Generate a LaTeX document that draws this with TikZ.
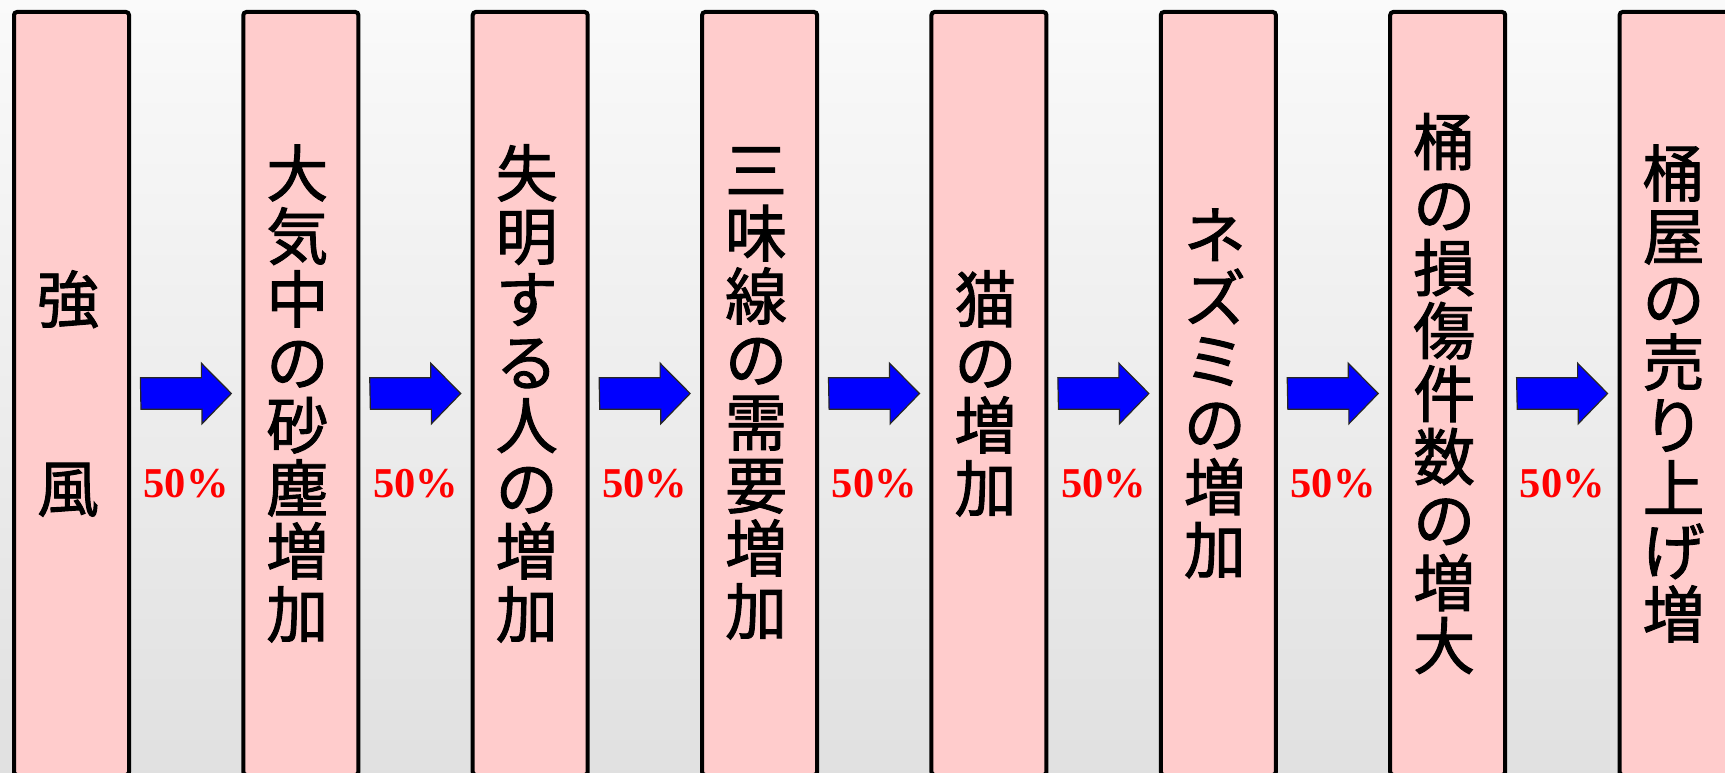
\documentclass[tikz,border=0pt]{standalone}
\usepackage{fontspec}
\usetikzlibrary{calc}
\newfontfamily\cjk{Noto Sans CJK JP}[FakeBold=1.5]
\newfontfamily\pctfont{Liberation Serif}
\definecolor{boxpink}{HTML}{FFCCCC}
\definecolor{arrowblue}{HTML}{0000FF}
\tikzset{
  stagebox/.style={draw=black, line width=4pt, fill=boxpink, rounded corners=3pt,
    minimum width=115pt, minimum height=763pt, inner sep=0pt, outer sep=0pt},
  jtext/.style={font=\cjk\fontsize{62pt}{63pt}\selectfont, align=center, inner sep=0pt, text=black},
  barrow/.style={fill=arrowblue, draw=black!85, line width=1.2pt, line join=miter},
  pct/.style={font=\pctfont\bfseries\fontsize{42.5pt}{42.5pt}\selectfont, text=red, anchor=base, inner sep=0pt}
}
\begin{document}
\begin{tikzpicture}[x=1pt, y=-1pt]
\useasboundingbox (0,0) rectangle (1725,773);
\clip (0,0) rectangle (1725,773);
\shade[top color=white!98!black, bottom color=white!88!black] (0,0) rectangle (1725,773);
% boxes
\foreach \i in {1,...,8} {
  \node[stagebox] (b\i) at ({71.5+229.37*(\i-1)}, 393.5) {};
}
% texts
\node[jtext] (t1) at ([xshift=-3.5pt]b1.center) {強\\[126pt]風};
\node[jtext] (t2) at ([xshift=-3.5pt]b2.center) {大\\気\\中\\の\\砂\\塵\\増\\加};
\node[jtext] (t3) at ([xshift=-3.5pt]b3.center) {失\\明\\す\\る\\人\\の\\増\\加};
\node[jtext] (t4) at ([xshift=-3.5pt]b4.center) {三\\味\\線\\の\\需\\要\\増\\加};
\node[jtext] (t5) at ([xshift=-3.5pt]b5.center) {猫\\の\\増\\加};
\node[jtext] (t6) at ([xshift=-3.5pt]b6.center) {ネ\\ズ\\ミ\\の\\増\\加};
\node[jtext] (t7) at ([xshift=-3.5pt]b7.center) {桶\\の\\損\\傷\\件\\数\\の\\増\\大};
\node[jtext] (t8) at ([xshift=-3.5pt]b8.center) {桶\\屋\\の\\売\\り\\上\\げ\\増};
% arrows and labels
\foreach \i [evaluate=\i as \j using int(\i+1)] in {1,...,7} {
  \draw[barrow] ([xshift=12pt]b\i.east) ++(0,15.7) -- ++(61,0) -- ++(0,14.6)
    -- ([xshift=-12pt]b\j.west) -- ++(-30,-30.3) -- ++(0,14.6) -- ++(-61,0) -- cycle;
  \node[pct] (p\i) at ($(b\i.east)!0.5!(b\j.west)+(0,103.5)$) {50\%};
}
\end{tikzpicture}
\end{document}
